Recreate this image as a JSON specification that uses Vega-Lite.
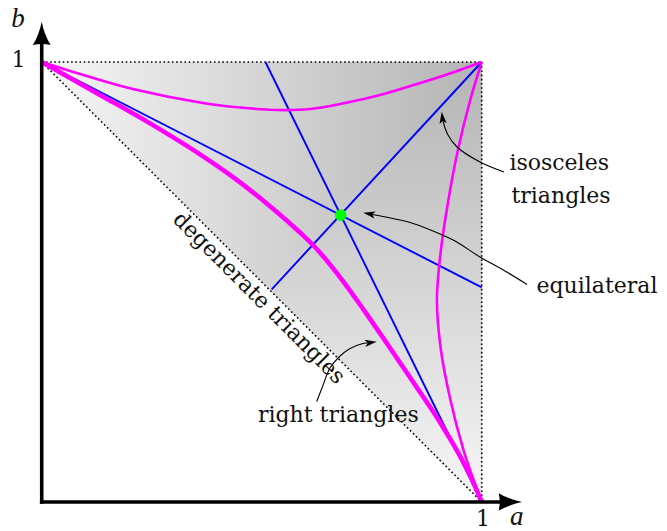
{
  "$schema": "https://vega.github.io/schema/vega-lite/v6.json",
  "width": 667,
  "height": 531,
  "autosize": {"type": "none"},
  "padding": 0,
  "background": "white",
  "config": {"view": {"stroke": null}},
  "datasets": {
    "regionA": [{"a": 0, "b": 1, "b2": 1}, {"a": 1, "b": 1, "b2": 0}],
    "regionB": [{"b": 0, "a": 1, "a2": 1}, {"b": 0.5, "a": 1, "a2": 0.5}, {"b": 1, "a": 1, "a2": 1}],
    "dotted": [
      {"a": 0, "b": 1, "a2": 1, "b2": 1},
      {"a": 1, "b": 1, "a2": 1, "b2": 0},
      {"a": 0, "b": 1, "a2": 1, "b2": 0}
    ],
    "blue": [
      {"a": 0, "b": 1, "a2": 1, "b2": 0.4878},
      {"a": 1, "b": 0, "a2": 0.5084, "b2": 1},
      {"a": 1, "b": 1, "a2": 0.5227, "b2": 0.4834}
    ],
    "thin": [
      {"curve": "upper", "i": 0, "a": 0, "b": 1},
      {"curve": "upper", "i": 1, "a": 0.1098, "b": 0.9659},
      {"curve": "upper", "i": 2, "a": 0.212, "b": 0.9375},
      {"curve": "upper", "i": 3, "a": 0.3598, "b": 0.908},
      {"curve": "upper", "i": 4, "a": 0.4507, "b": 0.8966},
      {"curve": "upper", "i": 5, "a": 0.5348, "b": 0.8909},
      {"curve": "upper", "i": 6, "a": 0.6098, "b": 0.8932},
      {"curve": "upper", "i": 7, "a": 0.6893, "b": 0.9068},
      {"curve": "upper", "i": 8, "a": 0.7689, "b": 0.925},
      {"curve": "upper", "i": 9, "a": 0.853, "b": 0.95},
      {"curve": "upper", "i": 10, "a": 0.928, "b": 0.9739},
      {"curve": "upper", "i": 11, "a": 1, "b": 1},
      {"curve": "right", "i": 0, "a": 1, "b": 1},
      {"curve": "right", "i": 1, "a": 0.9739, "b": 0.9136},
      {"curve": "right", "i": 2, "a": 0.9459, "b": 0.8},
      {"curve": "right", "i": 3, "a": 0.9243, "b": 0.6864},
      {"curve": "right", "i": 4, "a": 0.9073, "b": 0.5727},
      {"curve": "right", "i": 5, "a": 0.8982, "b": 0.4591},
      {"curve": "right", "i": 6, "a": 0.9073, "b": 0.3455},
      {"curve": "right", "i": 7, "a": 0.9289, "b": 0.2318},
      {"curve": "right", "i": 8, "a": 0.9584, "b": 0.1182},
      {"curve": "right", "i": 9, "a": 0.9775, "b": 0.0614},
      {"curve": "right", "i": 10, "a": 1, "b": 0}
    ],
    "thick": [
      {"i": 0, "a": 0, "b": 1},
      {"i": 1, "a": 0.1325, "b": 0.9252},
      {"i": 2, "a": 0.2461, "b": 0.8605},
      {"i": 3, "a": 0.3598, "b": 0.79},
      {"i": 4, "a": 0.4348, "b": 0.7382},
      {"i": 5, "a": 0.512, "b": 0.678},
      {"i": 6, "a": 0.587, "b": 0.6125},
      {"i": 7, "a": 0.6166, "b": 0.5841},
      {"i": 8, "a": 0.6825, "b": 0.505},
      {"i": 9, "a": 0.7302, "b": 0.4391},
      {"i": 10, "a": 0.7916, "b": 0.35},
      {"i": 11, "a": 0.8484, "b": 0.2664},
      {"i": 12, "a": 0.9052, "b": 0.1811},
      {"i": 13, "a": 0.9552, "b": 0.0961},
      {"i": 14, "a": 0.978, "b": 0.0507},
      {"i": 15, "a": 1, "b": 0}
    ],
    "equi": [{"a": 0.6795, "b": 0.652}],
    "arrows": [
      {"curve": "iso", "i": 0, "a": 1.0507, "b": 0.75},
      {"curve": "iso", "i": 1, "a": 0.9961, "b": 0.7727},
      {"curve": "iso", "i": 2, "a": 0.9439, "b": 0.8068},
      {"curve": "iso", "i": 3, "a": 0.9234, "b": 0.8341},
      {"curve": "iso", "i": 4, "a": 0.9132, "b": 0.8614},
      {"curve": "iso", "i": 5, "a": 0.9107, "b": 0.8734},
      {"curve": "eq", "i": 0, "a": 1.103, "b": 0.4943},
      {"curve": "eq", "i": 1, "a": 1.053, "b": 0.525},
      {"curve": "eq", "i": 2, "a": 0.9961, "b": 0.5568},
      {"curve": "eq", "i": 3, "a": 0.9393, "b": 0.5932},
      {"curve": "eq", "i": 4, "a": 0.8893, "b": 0.6159},
      {"curve": "eq", "i": 5, "a": 0.8439, "b": 0.633},
      {"curve": "eq", "i": 6, "a": 0.803, "b": 0.6432},
      {"curve": "eq", "i": 7, "a": 0.7643, "b": 0.6511},
      {"curve": "eq", "i": 8, "a": 0.7443, "b": 0.655},
      {"curve": "rt", "i": 0, "a": 0.625, "b": 0.2284},
      {"curve": "rt", "i": 1, "a": 0.637, "b": 0.2591},
      {"curve": "rt", "i": 2, "a": 0.6552, "b": 0.3045},
      {"curve": "rt", "i": 3, "a": 0.678, "b": 0.3318},
      {"curve": "rt", "i": 4, "a": 0.7007, "b": 0.3489},
      {"curve": "rt", "i": 5, "a": 0.7302, "b": 0.3602},
      {"curve": "rt", "i": 6, "a": 0.7478, "b": 0.3625}
    ],
    "headIso": [{"a": 0.9107, "b": 0.8734}],
    "headEq": [{"a": 0.7443, "b": 0.655}],
    "headRt": [{"a": 0.7478, "b": 0.3625}],
    "axes": [
      {"a": 0, "b": 0, "a2": 1.065, "b2": 0},
      {"a": 0, "b": 0, "a2": 0, "b2": 1.065}
    ],
    "headUp": [{"a": 0, "b": 1.065}],
    "headRight": [{"a": 1.065, "b": 0}],
    "labels": [
      {"a": 1.1761, "b": 0.7545, "label": "isosceles"},
      {"a": 1.1802, "b": 0.6802, "label": "triangles"},
      {"a": 1.262, "b": 0.4743, "label": "equilateral"},
      {"a": 0.6741, "b": 0.1825, "label": "right triangles"},
      {"a": -0.0527, "b": 0.9893, "label": "1"}
    ],
    "bottomLabels": [
      {"a": 1.003, "b": -0.0648, "label": "1"}
    ],
    "italicTop": [
      {"a": -0.0539, "b": 1.0802, "label": "b"}
    ],
    "italicBottom": [
      {"a": 1.0795, "b": -0.0648, "label": "a"}
    ],
    "degen": [{"a": 0.483, "b": 0.4527, "label": "degenerate triangles"}]
  },
  "encoding": {
    "x": {"field": "a", "type": "quantitative", "scale": {"domain": [-0.0948, 1.4211], "nice": false, "zero": false}, "axis": null},
    "y": {"field": "b", "type": "quantitative", "scale": {"domain": [-0.0659, 1.1409], "nice": false, "zero": false}, "axis": null}
  },
  "layer": [
    {
      "data": {"name": "regionA"},
      "mark": {"type": "area", "strokeWidth": 0, "color": {"gradient": "linear", "x1": 0, "y1": 0, "x2": 1, "y2": 0, "stops": [{"offset": 0, "color": "#f6f6f6"}, {"offset": 1, "color": "#b4b4b4"}]}},
      "encoding": {"y2": {"field": "b2"}}
    },
    {
      "data": {"name": "regionB"},
      "mark": {"type": "area", "orient": "horizontal", "strokeWidth": 0, "color": {"gradient": "linear", "x1": 0, "y1": 1, "x2": 0, "y2": 0, "stops": [{"offset": 0, "color": "#f6f6f6"}, {"offset": 1, "color": "#b4b4b4"}]}},
      "encoding": {"x2": {"field": "a2"}}
    },
    {
      "data": {"name": "dotted"},
      "mark": {"type": "rule", "color": "black", "strokeWidth": 1.6, "strokeDash": [1.6, 2.6]},
      "encoding": {"x2": {"field": "a2"}, "y2": {"field": "b2"}}
    },
    {
      "data": {"name": "blue"},
      "mark": {"type": "rule", "color": "#0000ff", "strokeWidth": 1.9},
      "encoding": {"x2": {"field": "a2"}, "y2": {"field": "b2"}}
    },
    {
      "data": {"name": "thin"},
      "mark": {"type": "line", "color": "#ff00ff", "strokeWidth": 2.6, "interpolate": "catmull-rom"},
      "encoding": {"order": {"field": "i", "type": "quantitative"}, "detail": {"field": "curve"}}
    },
    {
      "data": {"name": "thick"},
      "mark": {"type": "line", "color": "#ff00ff", "strokeWidth": 4.6, "interpolate": "monotone"},
      "encoding": {"order": {"field": "i", "type": "quantitative"}}
    },
    {
      "data": {"name": "equi"},
      "mark": {"type": "circle", "color": "#00ff00", "size": 135, "opacity": 1}
    },
    {
      "data": {"name": "arrows"},
      "mark": {"type": "line", "color": "black", "strokeWidth": 1.1, "interpolate": "catmull-rom"},
      "encoding": {"order": {"field": "i", "type": "quantitative"}, "detail": {"field": "curve"}}
    },
    {
      "data": {"name": "headIso"},
      "mark": {"type": "point", "shape": "M0,-1 L0.6,1 L0,0.5 L-0.6,1 Z", "filled": true, "color": "black", "opacity": 1, "size": 144, "angle": 353, "strokeWidth": 0}
    },
    {
      "data": {"name": "headEq"},
      "mark": {"type": "point", "shape": "M0,-1 L0.6,1 L0,0.5 L-0.6,1 Z", "filled": true, "color": "black", "opacity": 1, "size": 144, "angle": 281, "strokeWidth": 0}
    },
    {
      "data": {"name": "headRt"},
      "mark": {"type": "point", "shape": "M0,-1 L0.6,1 L0,0.5 L-0.6,1 Z", "filled": true, "color": "black", "opacity": 1, "size": 144, "angle": 82, "strokeWidth": 0}
    },
    {
      "data": {"name": "axes"},
      "mark": {"type": "rule", "color": "black", "strokeWidth": 3.6, "strokeCap": "square"},
      "encoding": {"x2": {"field": "a2"}, "y2": {"field": "b2"}}
    },
    {
      "data": {"name": "headUp"},
      "mark": {"type": "point", "shape": "M0,-1 Q0.22,0.1 0.76,1 Q0,0.82 -0.76,1 Q-0.22,0.1 0,-1 Z", "filled": true, "color": "black", "opacity": 1, "size": 543, "angle": 0, "strokeWidth": 0}
    },
    {
      "data": {"name": "headRight"},
      "mark": {"type": "point", "shape": "M0,-1 Q0.22,0.1 0.76,1 Q0,0.82 -0.76,1 Q-0.22,0.1 0,-1 Z", "filled": true, "color": "black", "opacity": 1, "size": 543, "angle": 90, "strokeWidth": 0}
    },
    {
      "data": {"name": "labels"},
      "mark": {"type": "text", "font": "DejaVu Serif", "fontSize": 22, "color": "#111111", "align": "center", "baseline": "alphabetic"},
      "encoding": {"text": {"field": "label"}}
    },
    {
      "data": {"name": "bottomLabels"},
      "mark": {"type": "text", "font": "DejaVu Serif", "fontSize": 22, "color": "#111111", "align": "center", "baseline": "bottom"},
      "encoding": {"text": {"field": "label"}}
    },
    {
      "data": {"name": "italicTop"},
      "mark": {"type": "text", "font": "Liberation Serif", "fontStyle": "italic", "fontSize": 27, "color": "#111111", "align": "center", "baseline": "alphabetic"},
      "encoding": {"text": {"field": "label"}}
    },
    {
      "data": {"name": "italicBottom"},
      "mark": {"type": "text", "font": "Liberation Serif", "fontStyle": "italic", "fontSize": 27, "color": "#111111", "align": "center", "baseline": "bottom"},
      "encoding": {"text": {"field": "label"}}
    },
    {
      "data": {"name": "degen"},
      "mark": {"type": "text", "font": "DejaVu Serif", "fontSize": 22, "color": "#111111", "align": "center", "baseline": "alphabetic", "angle": 45},
      "encoding": {"text": {"field": "label"}}
    }
  ]
}
